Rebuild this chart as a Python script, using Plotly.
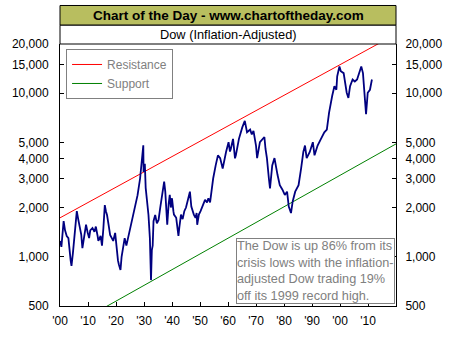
import plotly.graph_objects as go

# Inflation-adjusted Dow
dow_years = [1900.0, 1900.5, 1901.3, 1901.8, 1902.4, 1903.0, 1903.8, 1904.1, 1904.6, 1905.3,
             1906.0, 1906.5, 1907.0, 1907.6, 1908.0, 1908.6, 1909.3, 1909.9, 1910.4, 1910.8,
             1911.6, 1912.3, 1912.8, 1913.4, 1913.7, 1914.5, 1915.0, 1915.5, 1916.0, 1916.4,
             1916.8, 1917.4, 1917.9, 1918.5, 1919.0, 1919.7, 1920.2, 1920.7, 1921.0, 1921.6,
             1922.0, 1922.6, 1923.1, 1923.7, 1924.5, 1925.4, 1926.0, 1926.6, 1927.1, 1927.7,
             1928.6, 1929.0, 1929.4, 1929.75, 1929.85, 1930.3, 1930.6, 1931.2, 1931.6, 1932.1,
             1932.5, 1932.8, 1933.1, 1933.4, 1934.0, 1934.6, 1935.2, 1935.8, 1936.3, 1937.2,
             1937.6, 1938.0, 1938.3, 1938.8, 1939.2, 1939.6, 1940.0, 1940.5, 1940.7, 1941.5,
             1942.0, 1942.3, 1942.6, 1943.2, 1943.8, 1944.4, 1945.0, 1945.5, 1946.4, 1946.9,
             1947.4, 1947.8, 1948.4, 1948.8, 1949.0, 1949.6, 1950.2, 1950.7, 1951.8, 1952.5,
             1953.0, 1953.6, 1954.1, 1954.7, 1955.6, 1956.4, 1957.2, 1957.8, 1958.1, 1959.3,
             1960.2, 1960.7, 1961.0, 1961.8, 1962.5, 1962.8, 1963.9, 1965.1, 1966.0, 1966.8,
             1967.9, 1968.5, 1969.1, 1970.0, 1970.4, 1971.4, 1972.5, 1973.0, 1973.4, 1973.9,
             1974.6, 1975.0, 1975.8, 1976.6, 1977.7, 1978.5, 1979.4, 1980.3, 1981.1, 1981.7,
             1982.5, 1983.1, 1984.0, 1985.2, 1986.1, 1986.9, 1987.5, 1988.1, 1989.2, 1990.3,
             1990.9, 1992.0, 1993.2, 1994.4, 1995.3, 1996.1, 1997.2, 1998.0, 1998.7, 1999.0,
             1999.8, 2000.3, 2001.3, 2001.8, 2002.4, 2003.0, 2003.6, 2004.5, 2005.3, 2006.1,
             2007.0, 2007.6, 2008.2, 2008.8, 2009.3, 2009.9, 2010.7, 2011.4]
dow_values = [1250, 1150, 1650, 1450, 1340, 1300, 950, 880, 1050, 1500,
              1900, 1700, 1500, 1360, 1130, 1350, 1570, 1400, 1300, 1450,
              1500, 1420, 1530, 1350, 1250, 1340, 1170, 1500, 2070, 1900,
              1800, 1550, 1360, 1300, 1250, 1400, 1090, 950, 900, 830,
              1000, 1150, 1300, 1170, 1340, 1570, 1800, 1990, 2150, 2380,
              3010, 3600, 4380, 4800, 3300, 3700, 2640, 2070, 1800, 1300,
              720, 1100, 1170, 1650, 1800, 1600, 1680, 2000, 2280, 2880,
              2500, 1810, 1570, 2100, 2390, 2000, 2280, 1900, 1810, 1730,
              1500, 1340, 1500, 1810, 1700, 1900, 2000, 2180, 2500, 2030,
              1900, 1810, 1730, 1850, 1570, 1810, 1900, 1990, 2230, 2150,
              2280, 2150, 2500, 3010, 3620, 4170, 4010, 3500, 3460, 4370,
              5020, 4400, 4560, 5260, 4000, 4170, 5260, 6180, 6780, 5770,
              5990, 5600, 5880, 4790, 4010, 5020, 5260, 5400, 4560, 4010,
              3010, 2620, 3620, 4010, 3160, 2740, 2580, 2390, 2500, 2030,
              1850, 2180, 2500, 2740, 3460, 4370, 4790, 4010, 4370, 5020,
              4170, 4790, 5260, 5770, 5990, 7620, 9620, 11040, 10500, 12690,
              14580, 13640, 13270, 11560, 10070, 9360, 11040, 12130, 11800, 12130,
              13640, 14580, 13270, 9170, 7450, 10070, 10500, 12130]

resistance_years = [1900, 2020]
resistance_values = [1730, 23000]
support_years = [1900, 2020]
support_values = [344, 4900]

x_tickvals = [1900, 1910, 1920, 1930, 1940, 1950, 1960, 1970, 1980, 1990, 2000, 2010]
x_ticktext = ["'00", "'10", "'20", "'30", "'40", "'50", "'60", "'70", "'80", "'90", "'00", "'10"]
y_tickvals = [500, 1000, 2000, 3000, 4000, 5000, 10000, 15000, 20000]
y_ticktext = ["500", "1,000", "2,000", "3,000", "4,000", "5,000", "10,000", "15,000", "20,000"]

FONT = "Liberation Sans, Arial, sans-serif"

fig = go.Figure()
fig.add_trace(go.Scatter(x=resistance_years, y=resistance_values, mode="lines", name="Resistance",
                         line=dict(color="#FF0000", width=1)))
fig.add_trace(go.Scatter(x=support_years, y=support_values, mode="lines", name="Support",
                         line=dict(color="#008000", width=1)))
fig.add_trace(go.Scatter(x=dow_years, y=dow_values, mode="lines", name="Dow", showlegend=False,
                         line=dict(color="#000080", width=1.8)))
fig.add_trace(go.Scatter(x=dow_years, y=dow_values, mode="lines", yaxis="y2", showlegend=False,
                         hoverinfo="skip", line=dict(color="rgba(0,0,0,0)", width=0)))

yrange = [2.69897, 4.30103]
fig.update_layout(
    width=454, height=340,
    margin=dict(l=53, r=53, t=44, b=31),
    paper_bgcolor="white", plot_bgcolor="white",
    font=dict(family=FONT, size=12, color="black"),
    xaxis=dict(range=[1900, 2020], tickvals=x_tickvals, ticktext=x_ticktext,
               showline=True, linecolor="black", linewidth=1, ticks="inside", ticklen=4,
               tickcolor="black", showgrid=False, zeroline=False, ticklabelstandoff=4),
    yaxis=dict(type="log", range=yrange, tickvals=y_tickvals, ticktext=y_ticktext,
               showline=True, linecolor="black", linewidth=1, ticks="inside", ticklen=4,
               tickcolor="black", showgrid=False, zeroline=False, ticklabelstandoff=8),
    yaxis2=dict(type="log", range=yrange, tickvals=y_tickvals, ticktext=y_ticktext,
                overlaying="y", side="right", showline=True, linecolor="black", linewidth=1,
                ticks="inside", ticklen=4, tickcolor="black", showgrid=False, zeroline=False,
                ticklabelstandoff=6),
    legend=dict(x=0.018, y=0.981, xanchor="left", yanchor="top", bgcolor="white",
                bordercolor="#808080", borderwidth=1, font=dict(size=12, color="#808080"),
                tracegroupgap=0),
    showlegend=True,
)

fig.add_shape(type="rect", xref="paper", yref="paper", x0=0, x1=1, y0=1.0717, y1=1.147,
              fillcolor="#B8BE5F", line=dict(color="black", width=1), layer="above")
fig.add_shape(type="rect", xref="paper", yref="paper", x0=0, x1=1, y0=1.0, y1=1.0717,
              fillcolor="white", line=dict(color="black", width=1), layer="above")
fig.add_annotation(xref="paper", yref="paper", x=0.5, y=1.109, text="<b>Chart of the Day - www.chartoftheday.com</b>",
                   showarrow=False, font=dict(size=13.5, color="black"), xanchor="center", yanchor="middle")
fig.add_annotation(xref="paper", yref="paper", x=0.5, y=1.036, text="Dow (Inflation-Adjusted)",
                   showarrow=False, font=dict(size=12.8, color="black"), xanchor="center", yanchor="middle")
fig.add_annotation(xref="paper", yref="paper", x=0.523, y=0.259, xanchor="left", yanchor="top",
                   align="left", showarrow=False,
                   text="The Dow is up 86% from its<br>crisis lows with the inflation-<br>adjusted Dow trading 19%<br>off its 1999 record high.",
                   font=dict(size=12.7, color="#808080"), bgcolor="white", bordercolor="#808080",
                   borderwidth=1, borderpad=0)

fig.write_html("out.html")
